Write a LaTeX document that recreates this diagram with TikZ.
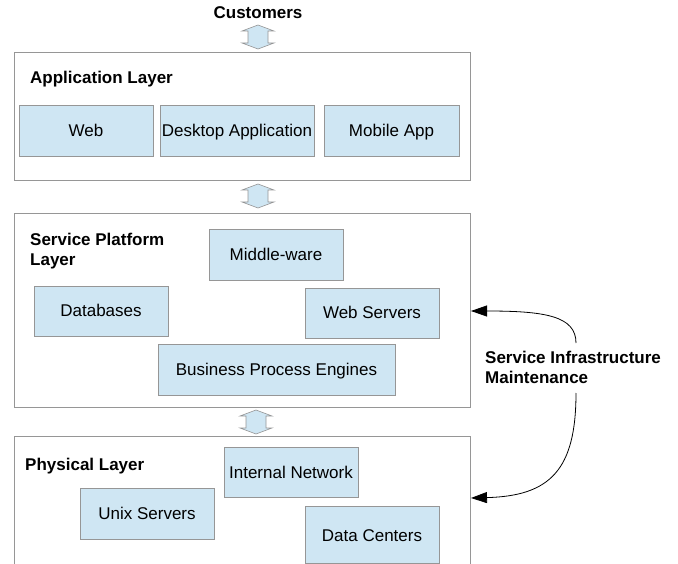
\documentclass[tikz,border=0pt]{standalone}
\usepackage{fontspec}
\setmainfont{Liberation Sans}
\usetikzlibrary{arrows.meta}
\definecolor{layergray}{RGB}{150,150,150}
\definecolor{boxgray}{RGB}{150,150,150}
\definecolor{nodeblue}{RGB}{207,230,243}
\begin{document}
\begin{tikzpicture}[x=1pt,y=-1pt,
  every node/.style={font=\fontsize{17}{19.5}\selectfont, text=black},
  layer/.style={draw=layergray, line width=0.9pt, fill=white},
  comp/.style={draw=boxgray, line width=0.8pt, fill=nodeblue, inner sep=0, minimum height=51, text height=12pt, text depth=0pt},
  lbl/.style={font=\bfseries\fontsize{17}{20}\selectfont, align=left, inner sep=0},
  dbl/.pic={\draw[draw=boxgray, fill=nodeblue, line width=0.6pt]
     (0,-12) -- (16,-6) -- (10,-6) -- (10,6) -- (16,6) -- (0,12) -- (-16,6) -- (-10,6) -- (-10,-6) -- (-16,-6) -- cycle;},
  maintarrow/.style={-{Triangle[length=16pt,width=11pt]}, line width=0.8pt}]
\useasboundingbox (0,0) rectangle (678,564);
\begin{scope}
\clip (0,0) rectangle (678,563.5);

% Customers
\node[lbl, anchor=center] (cust) at (258,13) {Customers};
\pic at (258,37) {dbl};

% Application layer
\draw[layer] (14,52) rectangle (470,180);
\node[lbl, anchor=west] (applbl) at (30,79) {Application Layer};
\node[comp, minimum width=134] (web) at (86,130.5) {Web};
\node[comp, minimum width=154] (desk) at (237,130.5) {Desktop Application};
\node[comp, minimum width=135] (mob) at (391.5,130.5) {Mobile App};

\pic at (258,196) {dbl};

% Service platform layer
\draw[layer] (14,213) rectangle (470,407);
\node[lbl, anchor=north west] (splbl) at (30,233) {Service Platform\\Layer};
\node[comp, minimum width=134] (mid) at (276,254.5) {Middle-ware};
\node[comp, minimum width=134, minimum height=50] (db) at (101,311) {Databases};
\node[comp, minimum width=134, minimum height=50] (ws) at (372,313) {Web Servers};
\node[comp, minimum width=237] (bpe) at (276.5,369.5) {Business Process Engines};

\pic at (256,422) {dbl};

% Physical layer
\draw[layer] (14,436) rectangle (470,620);
\node[lbl, anchor=west] (phlbl) at (25,466) {Physical Layer};
\node[comp, minimum width=134, minimum height=50] (net) at (291,472) {Internal Network};
\node[comp, minimum width=134] (unix) at (147,513.5) {Unix Servers};
\node[comp, minimum width=134, minimum height=57] (dc) at (372,535) {Data Centers};

% Maintenance label and arrows
\node[lbl, anchor=north west] (maint) at (485,351) {Service Infrastructure\\Maintenance};
\coordinate (mtop) at (576,343);
\coordinate (mbot) at (576,393);
\coordinate (tsp) at (471,311);
\coordinate (tph) at (471,498);
\draw[maintarrow] (mtop) .. controls (576,316) and (545,311) .. (tsp);
\draw[maintarrow] (mbot) .. controls (576,470) and (550,496) .. (tph);
\end{scope}
\end{tikzpicture}
\end{document}
